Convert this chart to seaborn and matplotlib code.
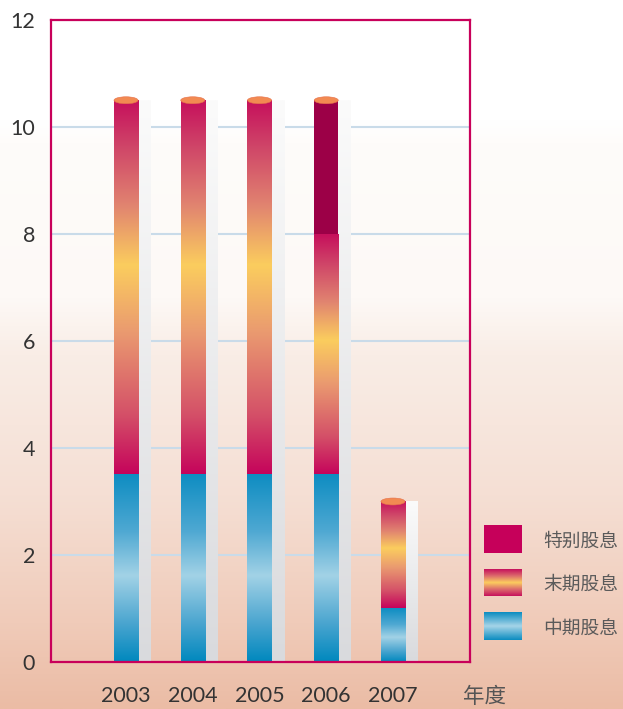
import numpy as np
import pandas as pd
import matplotlib
matplotlib.use("Agg")
import matplotlib.pyplot as plt
import seaborn as sns
from matplotlib.colors import LinearSegmentedColormap
from matplotlib.patches import Ellipse

# Dividend per share by year (stacked: interim, final, special)
years = ["2003", "2004", "2005", "2006", "2007"]
interim = [3.5, 3.5, 3.5, 3.5, 1.0]
final = [7.0, 7.0, 7.0, 4.5, 2.0]
special = [0.0, 0.0, 0.0, 2.5, 0.0]
legend_labels = ["特别股息", "末期股息", "中期股息"]
yticks = [0, 2, 4, 6, 8, 10, 12]
xlabel = "年度"

sns.set_theme(style="white")
plt.rcParams["font.family"] = ["Noto Sans CJK SC", "DejaVu Sans"]

df = pd.DataFrame({"year": years, "interim": interim, "final": final, "special": special})
df["lvl1"] = df["interim"]
df["lvl2"] = df["interim"] + df["final"]
df["lvl3"] = df["lvl2"] + df["special"]

W, H = 623, 709
fig = plt.figure(figsize=(W / 100, H / 100), dpi=100)

# page background: white at the top fading to peach at the bottom
bg = fig.add_axes([0, 0, 1, 1], zorder=-10)
bg_cmap = LinearSegmentedColormap.from_list("bg", [
    (0.0, "#ffffff"), (0.17, "#ffffff"), (0.2, "#fefcfa"), (0.42, "#fdf9f6"),
    (0.5, "#f9ede6"), (0.7, "#f5dfd4"), (0.88, "#f0cbb9"), (1.0, "#ebbca5")])
bg.imshow(np.linspace(0, 1, 256).reshape(-1, 1), aspect="auto", cmap=bg_cmap,
          extent=[0, 1, 0, 1], origin="upper", interpolation="bilinear")
bg.axis("off")

final_cmap = LinearSegmentedColormap.from_list("final", [
    (0.0, "#c6105c"), (0.12, "#cf4468"), (0.28, "#e18470"), (0.44, "#fbcd5e"),
    (0.62, "#ea9a70"), (0.84, "#d45068"), (1.0, "#c5035b")])
interim_cmap = LinearSegmentedColormap.from_list("interim", [
    (0.0, "#0e8dc2"), (0.3, "#4ea8d2"), (0.54, "#a2d2e6"), (0.8, "#48a4cf"),
    (1.0, "#0088be")])
shadow_cmap = LinearSegmentedColormap.from_list("shadow", ["#fbfbfb", "#d9dadd"])
special_color = "#9c0047"
special_legend = "#c6005a"
frame_color = "#c8005a"

ax = fig.add_axes([51 / W, 47 / H, 419 / W, 642 / H])
ax.patch.set_alpha(0)

bar_w = 0.36
shadow_w = 0.18
grad = np.linspace(0, 1, 256).reshape(-1, 1)

def draw_layer(col, color, z):
    n0 = len(ax.patches)
    sns.barplot(data=df, x="year", y=col, order=years, width=bar_w, color=color,
                errorbar=None, linewidth=0, zorder=z, ax=ax, saturation=1)
    return ax.patches[n0:]

top_bars = draw_layer("lvl3", special_color, 3)
mid_bars = draw_layer("lvl2", "#e08070", 4)
low_bars = draw_layer("lvl1", "#4ea8d2", 5)

for i, (p3, p2, p1) in enumerate(zip(top_bars, mid_bars, low_bars)):
    x0 = p3.get_x()
    x1 = x0 + p3.get_width()
    total = p3.get_height()
    b2 = p2.get_height()
    b1 = p1.get_height()
    # final dividend gradient
    ax.imshow(grad, aspect="auto", cmap=final_cmap, extent=[x0, x1, b1, b2],
              origin="upper", interpolation="bilinear", zorder=4.5)
    # interim dividend gradient
    ax.imshow(grad, aspect="auto", cmap=interim_cmap, extent=[x0, x1, 0, b1],
              origin="upper", interpolation="bilinear", zorder=5.5)
    # pale side shadow
    ax.imshow(grad, aspect="auto", cmap=shadow_cmap, extent=[x1, x1 + shadow_w, 0, total],
              origin="upper", interpolation="bilinear", zorder=2)
    # cylinder cap
    ax.add_patch(Ellipse(((x0 + x1) / 2, total), width=x1 - x0, height=0.13,
                         facecolor="#f28a52", edgecolor="#e6704a", lw=0.4, zorder=7))

ax.set_xlim(-1.124, 5.154)
ax.set_ylim(0, 12)
ax.set_yticks(yticks)
ax.set_yticklabels([str(v) for v in yticks])
ax.set_xlabel("")
ax.set_ylabel("")
ax.set_axisbelow(True)
ax.yaxis.grid(True, color="#c9dbe9", lw=1.5, zorder=0.5)
ax.xaxis.grid(False)
for s in ax.spines.values():
    s.set_visible(True)
    s.set_color(frame_color)
    s.set_linewidth(1.6)
    s.set_zorder(8)

ax.tick_params(axis="y", length=0, pad=11.5, labelsize=15.5, labelcolor="#333333")
ax.tick_params(axis="x", length=0, pad=17.5, labelsize=15.5, labelcolor="#333333")
for lab in ax.get_xticklabels() + ax.get_yticklabels():
    lab.set_fontfamily(["Lato", "DejaVu Sans"])

fig.text(484 / W, 1 - 697 / H, xlabel, ha="center", va="center", fontsize=15.5, color="#555555")

# legend swatches and labels
swatches = [(525, 553), (569, 596), (612, 640)]
final_sym = LinearSegmentedColormap.from_list("final_sym", [
    (0.0, "#c6105c"), (0.25, "#dc6a6c"), (0.5, "#fccd5e"), (0.75, "#dc6a6c"), (1.0, "#c6105c")])
interim_sym = LinearSegmentedColormap.from_list("interim_sym", [
    (0.0, "#0a8cc0"), (0.5, "#a6d4e8"), (1.0, "#0a8cc0")])
for (top, bottom), label, cmap in zip(swatches, legend_labels, [None, final_sym, interim_sym]):
    sax = fig.add_axes([484 / W, 1 - bottom / H, 38 / W, (bottom - top) / H])
    if cmap is None:
        sax.imshow([[0]], aspect="auto", cmap=LinearSegmentedColormap.from_list(
            "s", [special_legend, special_legend]), extent=[0, 1, 0, 1])
    else:
        sax.imshow(grad, aspect="auto", cmap=cmap, extent=[0, 1, 0, 1],
                   origin="upper", interpolation="bilinear")
    sax.axis("off")
    fig.text(543 / W, 1 - ((top + bottom) / 2 + 2) / H, label, ha="left", va="center",
             fontsize=13.5, color="#5a5a5a")

fig.savefig("out.png", dpi=100)
